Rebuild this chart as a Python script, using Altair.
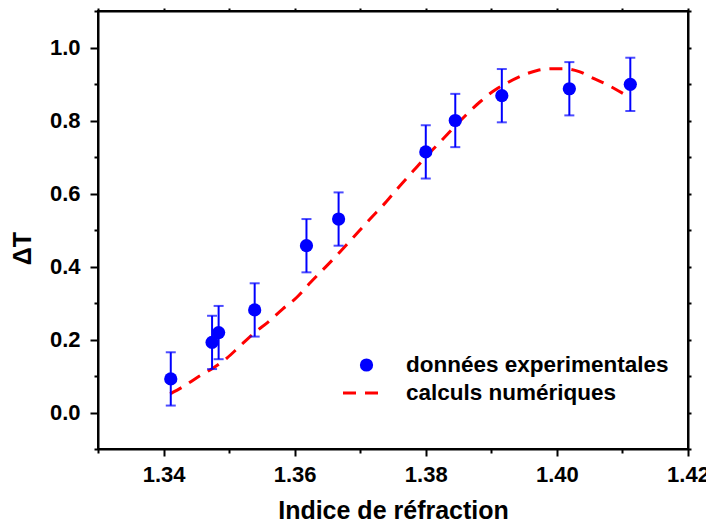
import altair as alt
import pandas as pd

# experimental data
n_exp = [1.3411, 1.3474, 1.3484, 1.3539, 1.3618, 1.3667, 1.3800, 1.3845, 1.3916, 1.4019, 1.4112]
dT_exp = [0.092, 0.192, 0.219, 0.281, 0.457, 0.530, 0.714, 0.800, 0.868, 0.887, 0.899]
err = [0.073, 0.073, 0.073, 0.073, 0.073, 0.073, 0.073, 0.073, 0.073, 0.073, 0.073]

# numerical curve
n_calc = [1.3410, 1.3430, 1.3453, 1.3474, 1.3496, 1.3516, 1.3539, 1.3559, 1.3582, 1.3603,
          1.3624, 1.3643, 1.3665, 1.3690, 1.3715, 1.3740, 1.3760, 1.3780, 1.3800, 1.3824,
          1.3845, 1.3862, 1.3882, 1.3905, 1.3924, 1.3948, 1.3970, 1.3992, 1.4011, 1.4034,
          1.4054, 1.4077, 1.4098, 1.4112]
dT_calc = [0.051, 0.071, 0.098, 0.120, 0.148, 0.181, 0.219, 0.247, 0.284, 0.315,
           0.356, 0.391, 0.432, 0.481, 0.530, 0.578, 0.620, 0.660, 0.700, 0.745,
           0.785, 0.816, 0.850, 0.883, 0.903, 0.924, 0.937, 0.942, 0.942, 0.934,
           0.917, 0.898, 0.877, 0.862]

legend_labels = ["données experimentales", "calculs numériques"]

exp_df = pd.DataFrame({"n": n_exp, "dT": dT_exp,
                       "lo": [v - e for v, e in zip(dT_exp, err)],
                       "hi": [v + e for v, e in zip(dT_exp, err)]})
calc_df = pd.DataFrame({"n": n_calc, "dT": dT_calc})

FONT = "Liberation Sans"
xscale = alt.Scale(domain=[1.33, 1.42], nice=False, zero=False)
yscale = alt.Scale(domain=[-0.1, 1.1], nice=False, zero=False)

xticks = [round(1.33 + 0.01 * i, 2) for i in range(10)]
yticks = [round(-0.1 + 0.1 * i, 1) for i in range(13)]

x_major = "round(datum.value*100) % 2 == 0"
y_major = "round(datum.value*10) % 2 == 0"

x_bottom = alt.Axis(values=xticks, format=".2f",
                    labelExpr="(" + x_major + ") ? format(datum.value, '.2f') : ''",
                    title="Indice de réfraction", grid=False,
                    tickSize={"condition": {"test": x_major, "value": 7}, "value": 4},
                    tickWidth=2, domainWidth=2, domainColor="black", tickColor="black",
                    labelFont=FONT, labelFontSize=22, labelFontWeight=700, labelColor="black",
                    labelPadding=8, labelFlush=False,
                    titleFont=FONT, titleFontSize=25, titleFontWeight="bold",
                    titleColor="black", titleBaseline="alphabetic", titleY=69)
y_left = alt.Axis(values=yticks, format=".1f",
                  labelExpr="(" + y_major + " && datum.value > -0.05 && datum.value < 1.05) ? format(datum.value, '.1f') : ''",
                  title="ΔT", grid=False,
                  tickSize={"condition": {"test": y_major, "value": 8}, "value": 4},
                  tickWidth=2, domainWidth=2, domainColor="black", tickColor="black",
                  labelFont=FONT, labelFontSize=22, labelFontWeight=700, labelColor="black",
                  labelPadding=10, labelFlush=False,
                  titleFont=FONT, titleFontSize=25, titleFontWeight="bold",
                  titleColor="black", titleX=-63, titleY=237)
x_top = alt.Axis(orient="top", values=xticks, labels=False, title=None, grid=False,
                 tickSize=3, tickWidth=2, domainWidth=2, domainColor="black", tickColor="black")
y_right = alt.Axis(orient="right", values=yticks, labels=False, title=None, grid=False,
                   tickSize=3, tickWidth=2, domainWidth=2, domainColor="black", tickColor="black")

frame = alt.Chart(exp_df).mark_point(opacity=0).encode(
    x=alt.X("n:Q", scale=xscale, axis=x_top),
    y=alt.Y("dT:Q", scale=yscale, axis=y_right),
)

line = alt.Chart(calc_df).mark_line(color="#ff0000", strokeWidth=3, strokeDash=[13, 9],
                                    interpolate="monotone").encode(
    x=alt.X("n:Q", scale=xscale, axis=x_bottom),
    y=alt.Y("dT:Q", scale=yscale, axis=y_left),
)

bars = alt.Chart(exp_df).mark_rule(color="#0000ff", strokeWidth=2).encode(
    x=alt.X("n:Q", scale=xscale, axis=None), y=alt.Y("lo:Q", scale=yscale, axis=None), y2="hi:Q")
cap_lo = alt.Chart(exp_df).mark_tick(color="#0000ff", orient="horizontal", size=10, thickness=2).encode(
    x=alt.X("n:Q", scale=xscale, axis=None), y=alt.Y("lo:Q", scale=yscale, axis=None))
cap_hi = alt.Chart(exp_df).mark_tick(color="#0000ff", orient="horizontal", size=10, thickness=2).encode(
    x=alt.X("n:Q", scale=xscale, axis=None), y=alt.Y("hi:Q", scale=yscale, axis=None))
pts = alt.Chart(exp_df).mark_circle(color="#0000ff", size=175, opacity=1).encode(
    x=alt.X("n:Q", scale=xscale, axis=None), y=alt.Y("dT:Q", scale=yscale, axis=None))

leg_df = pd.DataFrame({"label": legend_labels})
leg_pt = alt.Chart(leg_df).transform_filter(alt.datum.label == legend_labels[0]).mark_circle(
    color="#0000ff", size=175, opacity=1).encode(x=alt.value(268.5), y=alt.value(354))
leg_line = alt.Chart(leg_df).transform_filter(alt.datum.label == legend_labels[1]).mark_rule(
    color="#ff0000", strokeWidth=3, strokeDash=[13, 9]).encode(
    x=alt.value(245), x2=alt.value(285), y=alt.value(382))
leg_t1 = alt.Chart(leg_df).transform_filter(alt.datum.label == legend_labels[0]).mark_text(
    align="left", baseline="middle", font=FONT, fontSize=22.5, fontWeight="bold", color="black").encode(
    x=alt.value(308), y=alt.value(354), text="label:N")
leg_t2 = alt.Chart(leg_df).transform_filter(alt.datum.label == legend_labels[1]).mark_text(
    align="left", baseline="middle", font=FONT, fontSize=22.5, fontWeight="bold", color="black").encode(
    x=alt.value(308), y=alt.value(382), text="label:N")

chart = alt.layer(line, frame, bars, cap_lo, cap_hi, pts, leg_pt, leg_line, leg_t1, leg_t2).resolve_axis(
    x="independent", y="independent"
).properties(
    width=590, height=438,
    autosize=alt.AutoSizeParams(type="none"),
    padding={"left": 90, "top": 3, "right": 18, "bottom": 70},
    background="white",
).configure_view(stroke="black", strokeWidth=2).configure_axis(
    labelFont=FONT, labelFontWeight="bold", labelColor="black"
)

chart.save("out.html", embed_options={"renderer": "svg", "actions": False})
